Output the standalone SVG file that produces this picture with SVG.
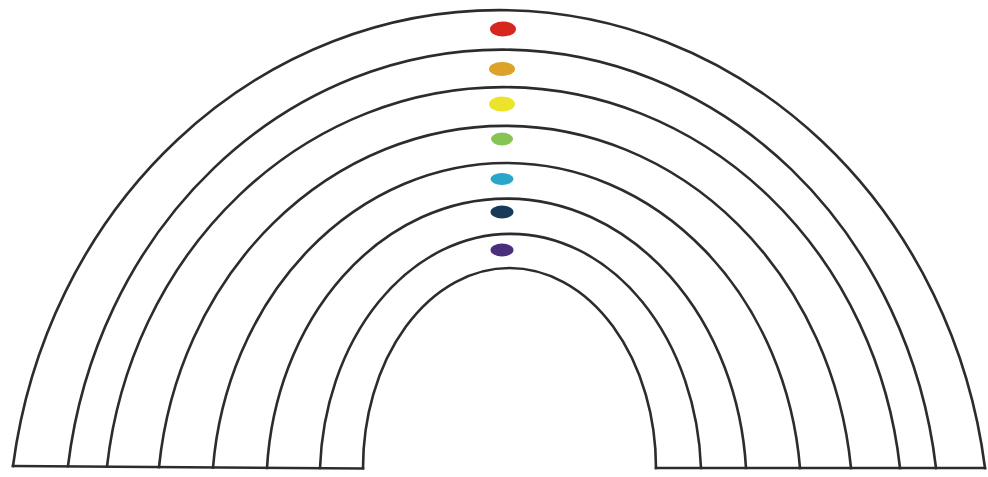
<svg xmlns="http://www.w3.org/2000/svg" width="988" height="477" viewBox="0 0 988 477">
  <style>
    .arc { fill: none; stroke: #2c2c2c; stroke-width: 2.6; stroke-linecap: square; }
  </style>
  <rect x="0" y="0" width="988" height="477" fill="#ffffff"/>
  <g id="arcs">
    <path id="arc1" class="arc" d="M13,466 A490.7,530 0 0 1 985,468"/>
    <path id="arc2" class="arc" d="M68,466 A437.7,479.6 0 0 1 936,468"/>
    <path id="arc3" class="arc" d="M107,466.5 A399.4,432.1 0 0 1 900,468"/>
    <path id="arc4" class="arc" d="M159,467 A348.1,383.7 0 0 1 851,468"/>
    <path id="arc5" class="arc" d="M213,467.5 A294.8,336.3 0 0 1 800,468"/>
    <path id="arc6" class="arc" d="M267,468 A240.1,289.9 0 0 1 746,468"/>
    <path id="arc7" class="arc" d="M320,468 A190.7,245.4 0 0 1 701,468"/>
    <path id="arc8" class="arc" d="M363,468 A146.5,200 0 0 1 656,468"/>
  </g>
  <g id="baseline">
    <line class="arc" x1="13" y1="466" x2="363" y2="468.5"/>
    <line class="arc" x1="656" y1="468" x2="985" y2="468"/>
  </g>
  <g id="dots">
    <ellipse id="dot-red" cx="503" cy="29" rx="13" ry="7.5" fill="#d7261e"/>
    <ellipse id="dot-orange" cx="502" cy="69" rx="13" ry="7" fill="#dca22a"/>
    <ellipse id="dot-yellow" cx="502" cy="104" rx="13" ry="7.5" fill="#ece42a"/>
    <ellipse id="dot-green" cx="502" cy="139" rx="11" ry="6.5" fill="#86c454"/>
    <ellipse id="dot-cyan" cx="502" cy="179" rx="11.5" ry="6" fill="#2aa6c8"/>
    <ellipse id="dot-navy" cx="502" cy="212" rx="11.5" ry="6.5" fill="#173a58"/>
    <ellipse id="dot-purple" cx="502" cy="250" rx="11.5" ry="6.5" fill="#4b2f7c"/>
  </g>
</svg>
